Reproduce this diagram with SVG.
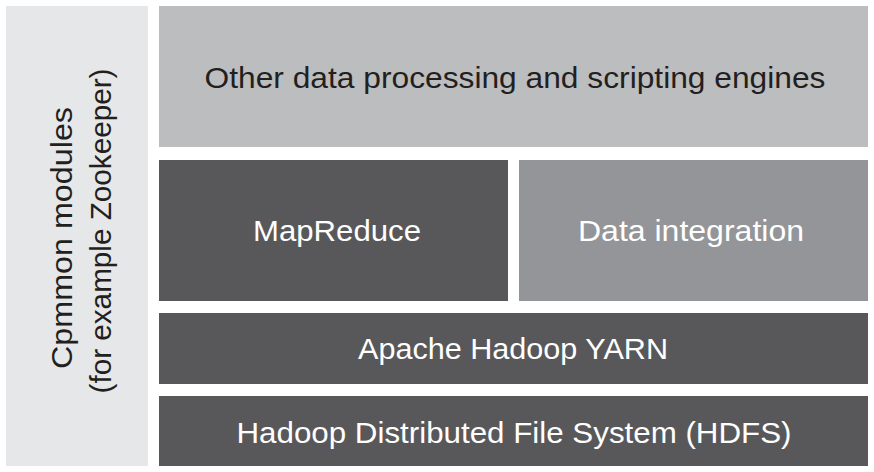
<svg xmlns="http://www.w3.org/2000/svg" width="874" height="472" viewBox="0 0 874 472">
<style>
text{font-family:"Liberation Sans",Arial,sans-serif;font-size:30px;text-anchor:middle;dominant-baseline:central}
.dk{fill:#231f20}.wt{fill:#ffffff}
</style>
<rect width="874" height="472" fill="#ffffff"/>
<g id="common">
<rect x="6" y="6" width="142" height="460" fill="#e6e7e8"/>
<text class="dk" transform="translate(61,238) rotate(-90)" textLength="262" lengthAdjust="spacingAndGlyphs">Cpmmon modules</text>
<text class="dk" transform="translate(100,231) rotate(-90)" textLength="325" lengthAdjust="spacingAndGlyphs">(for example Zookeeper)</text>
</g>
<g id="other">
<rect x="159" y="6" width="709" height="141" fill="#bcbdbf"/>
<text class="dk" x="515" y="77" textLength="621" lengthAdjust="spacingAndGlyphs">Other data processing and scripting engines</text>
</g>
<g id="mapreduce">
<rect x="159" y="160" width="349" height="141" fill="#58585a"/>
<text class="wt" x="337" y="230" textLength="168" lengthAdjust="spacingAndGlyphs">MapReduce</text>
</g>
<g id="dataintegration">
<rect x="519" y="160" width="349" height="141" fill="#939598"/>
<text class="wt" x="691" y="230" textLength="226" lengthAdjust="spacingAndGlyphs">Data integration</text>
</g>
<g id="yarn">
<rect x="159" y="313" width="709" height="71" fill="#58585a"/>
<text class="wt" x="513" y="348" textLength="310" lengthAdjust="spacingAndGlyphs">Apache Hadoop YARN</text>
</g>
<g id="hdfs">
<rect x="159" y="396" width="709" height="70" fill="#58585a"/>
<text class="wt" x="514" y="432" textLength="555" lengthAdjust="spacingAndGlyphs">Hadoop Distributed File System (HDFS)</text>
</g>
<g id="connectors"/>
</svg>
